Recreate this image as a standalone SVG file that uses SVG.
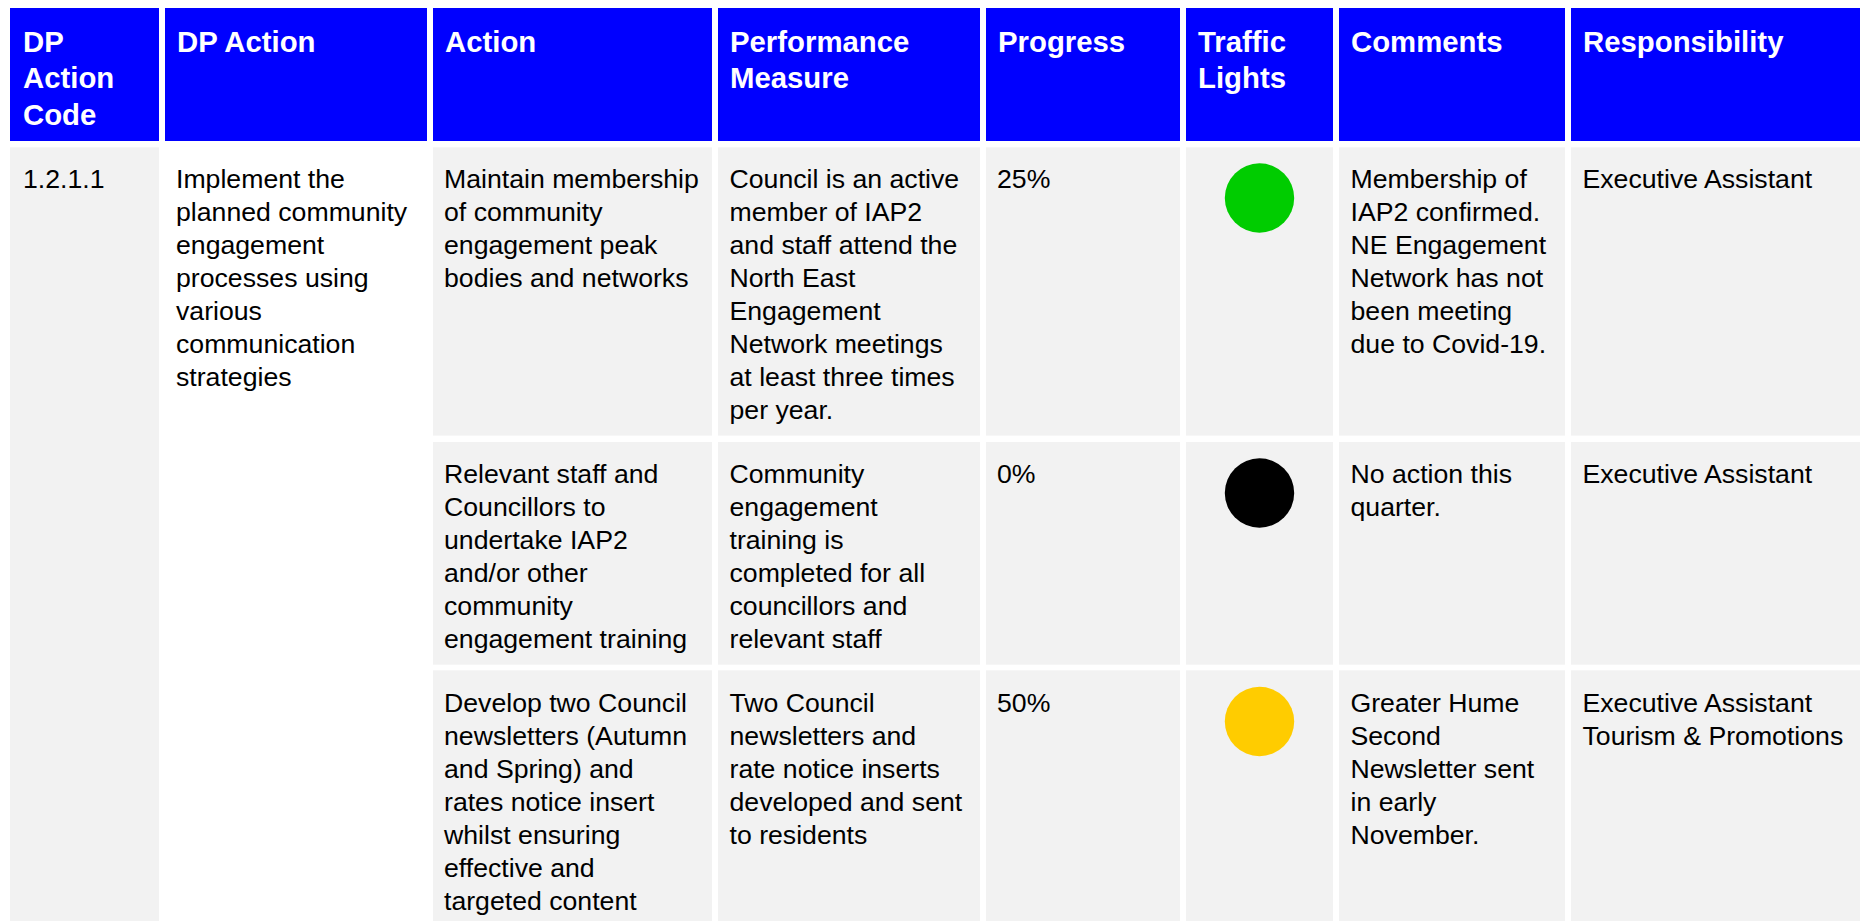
<svg xmlns="http://www.w3.org/2000/svg" width="1860" height="921" viewBox="0 0 1860 921">
<style>
.hd{fill:#0000FF}
.cell{fill:#F2F2F2}
.wcell{fill:#FFFFFF}
.ht{font-family:"Liberation Sans",Arial,sans-serif;font-weight:bold;font-size:29.33px;fill:#FFFFFF}
.bt{font-family:"Liberation Sans",Arial,sans-serif;font-size:26.67px;fill:#000000}
</style>
<rect x="0" y="0" width="1860" height="921" fill="#FFFFFF"/>
<g id="header">
<rect class="hd" x="10" y="8" width="149" height="133"/>
<rect class="hd" x="165" y="8" width="262" height="133"/>
<rect class="hd" x="433" y="8" width="279" height="133"/>
<rect class="hd" x="718" y="8" width="262" height="133"/>
<rect class="hd" x="986" y="8" width="194" height="133"/>
<rect class="hd" x="1186" y="8" width="147" height="133"/>
<rect class="hd" x="1339" y="8" width="226" height="133"/>
<rect class="hd" x="1571" y="8" width="289" height="133"/>
<text class="ht" x="23" y="51.7"><tspan x="23">DP</tspan><tspan x="23" dy="36.7">Action</tspan><tspan x="23" dy="36.7">Code</tspan></text>
<text class="ht" x="177" y="51.7">DP Action</text>
<text class="ht" x="445" y="51.7">Action</text>
<text class="ht" x="730" y="51.7"><tspan x="730">Performance</tspan><tspan x="730" dy="36.7">Measure</tspan></text>
<text class="ht" x="998" y="51.7">Progress</text>
<text class="ht" x="1198" y="51.7"><tspan x="1198">Traffic</tspan><tspan x="1198" dy="36.7">Lights</tspan></text>
<text class="ht" x="1351" y="51.7">Comments</text>
<text class="ht" x="1583" y="51.7">Responsibility</text>
</g>
<g id="dp-code">
<rect class="cell" x="10" y="147.3" width="149" height="773.7"/>
<text class="bt" x="23" y="188.3">1.2.1.1</text>
</g>
<g id="dp-action">
<rect class="wcell" x="165" y="147.3" width="262" height="773.7"/>
<text class="bt" x="176" y="188.3"><tspan x="176">Implement the</tspan><tspan x="176" dy="33">planned community</tspan><tspan x="176" dy="33">engagement</tspan><tspan x="176" dy="33">processes using</tspan><tspan x="176" dy="33">various</tspan><tspan x="176" dy="33">communication</tspan><tspan x="176" dy="33">strategies</tspan></text>
</g>
<g id="row1">
<rect class="cell" x="433" y="147.3" width="279" height="288.3"/>
<rect class="cell" x="718" y="147.3" width="262" height="288.3"/>
<rect class="cell" x="986" y="147.3" width="194" height="288.3"/>
<rect class="cell" x="1186" y="147.3" width="147" height="288.3"/>
<rect class="cell" x="1339" y="147.3" width="226" height="288.3"/>
<rect class="cell" x="1571" y="147.3" width="289" height="288.3"/>
<text class="bt" x="444" y="188.3"><tspan x="444">Maintain membership</tspan><tspan x="444" dy="33">of community</tspan><tspan x="444" dy="33">engagement peak</tspan><tspan x="444" dy="33">bodies and networks</tspan></text>
<text class="bt" x="729.5" y="188.3"><tspan x="729.5">Council is an active</tspan><tspan x="729.5" dy="33">member of IAP2</tspan><tspan x="729.5" dy="33">and staff attend the</tspan><tspan x="729.5" dy="33">North East</tspan><tspan x="729.5" dy="33">Engagement</tspan><tspan x="729.5" dy="33">Network meetings</tspan><tspan x="729.5" dy="33">at least three times</tspan><tspan x="729.5" dy="33">per year.</tspan></text>
<text class="bt" x="997" y="188.3">25%</text>
<circle cx="1259.5" cy="198" r="34.7" fill="#00CC00"/>
<text class="bt" x="1350.5" y="188.3"><tspan x="1350.5">Membership of</tspan><tspan x="1350.5" dy="33">IAP2 confirmed.</tspan><tspan x="1350.5" dy="33">NE Engagement</tspan><tspan x="1350.5" dy="33">Network has not</tspan><tspan x="1350.5" dy="33">been meeting</tspan><tspan x="1350.5" dy="33">due to Covid-19.</tspan></text>
<text class="bt" x="1582.5" y="188.3">Executive Assistant</text>
</g>
<g id="row2">
<rect class="cell" x="433" y="442" width="279" height="222.7"/>
<rect class="cell" x="718" y="442" width="262" height="222.7"/>
<rect class="cell" x="986" y="442" width="194" height="222.7"/>
<rect class="cell" x="1186" y="442" width="147" height="222.7"/>
<rect class="cell" x="1339" y="442" width="226" height="222.7"/>
<rect class="cell" x="1571" y="442" width="289" height="222.7"/>
<text class="bt" x="444" y="483.3"><tspan x="444">Relevant staff and</tspan><tspan x="444" dy="33">Councillors to</tspan><tspan x="444" dy="33">undertake IAP2</tspan><tspan x="444" dy="33">and/or other</tspan><tspan x="444" dy="33">community</tspan><tspan x="444" dy="33">engagement training</tspan></text>
<text class="bt" x="729.5" y="483.3"><tspan x="729.5">Community</tspan><tspan x="729.5" dy="33">engagement</tspan><tspan x="729.5" dy="33">training is</tspan><tspan x="729.5" dy="33">completed for all</tspan><tspan x="729.5" dy="33">councillors and</tspan><tspan x="729.5" dy="33">relevant staff</tspan></text>
<text class="bt" x="997" y="483.3">0%</text>
<circle cx="1259.5" cy="493" r="34.7" fill="#000000"/>
<text class="bt" x="1350.5" y="483.3"><tspan x="1350.5">No action this</tspan><tspan x="1350.5" dy="33">quarter.</tspan></text>
<text class="bt" x="1582.5" y="483.3">Executive Assistant</text>
</g>
<g id="row3">
<rect class="cell" x="433" y="670.3" width="279" height="250.7"/>
<rect class="cell" x="718" y="670.3" width="262" height="250.7"/>
<rect class="cell" x="986" y="670.3" width="194" height="250.7"/>
<rect class="cell" x="1186" y="670.3" width="147" height="250.7"/>
<rect class="cell" x="1339" y="670.3" width="226" height="250.7"/>
<rect class="cell" x="1571" y="670.3" width="289" height="250.7"/>
<text class="bt" x="444" y="712"><tspan x="444">Develop two Council</tspan><tspan x="444" dy="33">newsletters (Autumn</tspan><tspan x="444" dy="33">and Spring) and</tspan><tspan x="444" dy="33">rates notice insert</tspan><tspan x="444" dy="33">whilst ensuring</tspan><tspan x="444" dy="33">effective and</tspan><tspan x="444" dy="33">targeted content</tspan></text>
<text class="bt" x="729.5" y="712"><tspan x="729.5">Two Council</tspan><tspan x="729.5" dy="33">newsletters and</tspan><tspan x="729.5" dy="33">rate notice inserts</tspan><tspan x="729.5" dy="33">developed and sent</tspan><tspan x="729.5" dy="33">to residents</tspan></text>
<text class="bt" x="997" y="712">50%</text>
<circle cx="1259.5" cy="721.5" r="34.7" fill="#FFCC00"/>
<text class="bt" x="1350.5" y="712"><tspan x="1350.5">Greater Hume</tspan><tspan x="1350.5" dy="33">Second</tspan><tspan x="1350.5" dy="33">Newsletter sent</tspan><tspan x="1350.5" dy="33">in early</tspan><tspan x="1350.5" dy="33">November.</tspan></text>
<text class="bt" x="1582.5" y="712"><tspan x="1582.5">Executive Assistant</tspan><tspan x="1582.5" dy="33">Tourism &amp; Promotions</tspan></text>
</g>
<g id="connectors"></g>
</svg>
